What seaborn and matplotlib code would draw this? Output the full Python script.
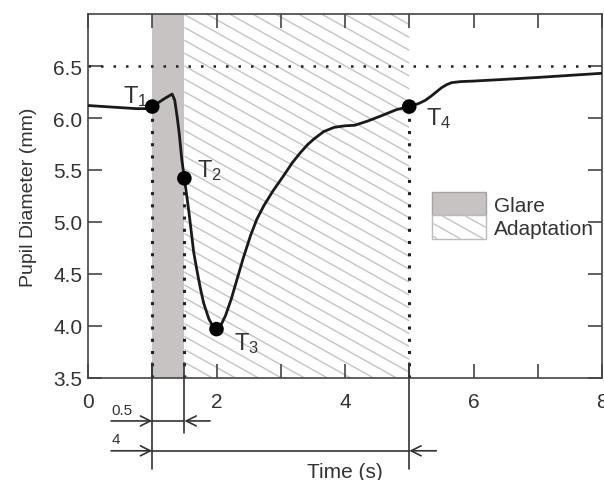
import numpy as np
import matplotlib
matplotlib.use("Agg")
import matplotlib.pyplot as plt
from matplotlib.patches import Rectangle
from matplotlib.collections import LineCollection
import seaborn as sns
import pandas as pd

# Pupil diameter trace (s, mm)
time_s = [0.0, 0.25, 0.5, 0.75, 0.9, 1.0, 1.1, 1.2, 1.31, 1.35, 1.39, 1.42,
          1.46, 1.5, 1.57, 1.645, 1.7, 1.75, 1.8, 1.88, 1.94, 2.0, 2.07,
          2.14, 2.23, 2.32, 2.42, 2.53, 2.63, 2.74, 2.88, 3.05, 3.18, 3.31,
          3.42, 3.52, 3.67, 3.83, 4.0, 4.15, 4.35, 4.56, 4.8, 5.0, 5.15,
          5.25, 5.34, 5.42, 5.5, 5.58, 5.66, 5.8, 6.0, 6.44, 7.0, 7.5, 8.0]
diameter_mm = [6.12, 6.11, 6.10, 6.09, 6.09, 6.11, 6.15, 6.19, 6.23, 6.17,
               6.00, 5.85, 5.60, 5.42, 5.10, 4.71, 4.52, 4.36, 4.22, 4.07,
               4.00, 3.97, 4.01, 4.10, 4.26, 4.45, 4.66, 4.87, 5.03, 5.16,
               5.30, 5.45, 5.57, 5.67, 5.745, 5.80, 5.87, 5.91, 5.925, 5.93,
               5.97, 6.02, 6.08, 6.11, 6.14, 6.17, 6.21, 6.25, 6.29, 6.32,
               6.34, 6.35, 6.355, 6.37, 6.39, 6.41, 6.43]

# Key instants T1..T4
key_labels = ["1", "2", "3", "4"]
key_time = [1.0, 1.5, 2.0, 5.0]
key_diam = [6.11, 5.42, 3.97, 6.11]

# Phases
glare_span = (1.0, 1.5)
adapt_span = (1.5, 5.0)
ref_level = 6.5

x_ticks = [0, 1, 2, 3, 4, 5, 6, 7, 8]
x_ticklabels = ["0", "", "2", "", "4", "", "6", "", "8"]
y_ticks = [3.5, 4.0, 4.5, 5.0, 5.5, 6.0, 6.5]

sns.set_theme(style="ticks")
plt.rcParams["font.family"] = ["Liberation Sans", "DejaVu Sans"]
plt.rcParams["mathtext.fontset"] = "custom"
plt.rcParams["mathtext.rm"] = "Liberation Sans"
plt.rcParams["mathtext.it"] = "Liberation Sans"

TXT = "#333333"
LINE = "#222222"
GLARE = "#c8c3c3"
HATCH = "#c4c4c4"

fig = plt.figure(figsize=(6.04, 4.81), dpi=100)
ax = fig.add_axes([88 / 604, 1 - 379 / 481, 514 / 604, 364 / 481])
ax.set_xlim(0, 8)
ax.set_ylim(3.5, 7.0)


def hatch_segments(xmin, xmax, ymin, ymax, slope, step, phase=0.0):
    """Parallel descending lines clipped to a rectangle."""
    h = ymax - ymin
    segs = []
    c = xmin - h / slope - step + phase
    while c < xmax:
        xs = max(c, xmin)
        xe = min(c + h / slope, xmax)
        if xs < xe:
            segs.append([(xs, ymax - slope * (xs - c)), (xe, ymax - slope * (xe - c))])
        c += step
    return segs


# Glare band
ax.axvspan(*glare_span, color=GLARE, lw=0, zorder=0)

# Adaptation hatching, drawn in axes-fraction coordinates
x0 = adapt_span[0] / 8
x1 = adapt_span[1] / 8
aspect = 514 / 364
segs = hatch_segments(x0, x1, 0, 1, 0.56 * aspect, 23 / 514, phase=0.01)
ax.add_collection(LineCollection(segs, colors=HATCH, linewidths=1.0,
                                 transform=ax.transAxes, zorder=0))

# Reference level and drop lines
ax.axhline(ref_level, color=LINE, lw=1.8, dashes=(1, 4), zorder=1)
for xt, yt in zip(key_time, key_diam):
    if xt == 2.0:
        continue
    ax.plot([xt, xt], [3.5, yt], color=LINE, lw=2.2, dashes=(1, 3), zorder=1)

# Trace
df = pd.DataFrame({"t": time_s, "d": diameter_mm})
sns.lineplot(data=df, x="t", y="d", ax=ax, color="#1a1a1a", lw=2.0,
             sort=False, estimator=None, zorder=3)
kp = pd.DataFrame({"t": key_time, "d": key_diam})
sns.scatterplot(data=kp, x="t", y="d", ax=ax, color="black", s=110,
                edgecolor="none", zorder=4)

label_off = [(-29, 23), (13, 21), (18, -1), (17, 1)]
for lab, xt, yt, (dx, dy) in zip(key_labels, key_time, key_diam, label_off):
    ax.annotate(r"T$_{\mathregular{%s}}$" % lab, (xt, yt), xytext=(dx, dy),
                textcoords="offset pixels", fontsize=17, color=TXT,
                ha="left", va="top")

# Axes styling
ax.set_xticks(x_ticks)
ax.set_xticklabels(x_ticklabels)
ax.set_yticks(y_ticks)
ax.set_yticklabels([f"{v:.1f}" for v in y_ticks])
ax.tick_params(direction="in", length=10, width=1.2, color="#444444",
               top=True, right=True, labelsize=15, labelcolor=TXT)
ax.tick_params(axis="x", pad=10)
ax.tick_params(axis="y", pad=4)
for sp in ax.spines.values():
    sp.set_color("#444444")
    sp.set_linewidth(1.2)
ax.set_xlabel("")
ax.set_ylabel("Pupil Diameter (mm)", fontsize=14, color=TXT, labelpad=12)

# Duration markers below the axis
xt = ax.get_xaxis_transform()
DIM = "#333333"
for xv, ybot in [(1.0, -0.25), (1.5, -0.15), (5.0, -0.25)]:
    ax.plot([xv, xv], [0.04, ybot], transform=xt, color=DIM, lw=1.2,
            clip_on=False, zorder=5)

arrow = dict(arrowstyle="->", lw=1.2, color=DIM, shrinkA=0, shrinkB=0,
             mutation_scale=18)
y_half = -0.118
y_full = -0.2
ax.annotate("", xy=(1.0, y_half), xytext=(0.36, y_half), xycoords=xt,
            arrowprops=arrow, annotation_clip=False)
ax.annotate("", xy=(1.5, y_half), xytext=(1.9, y_half), xycoords=xt,
            arrowprops=arrow, annotation_clip=False)
ax.plot([1.0, 1.5], [y_half, y_half], transform=xt, color=DIM, lw=1.2,
        clip_on=False)
ax.annotate("", xy=(1.0, y_full), xytext=(0.36, y_full), xycoords=xt,
            arrowprops=arrow, annotation_clip=False)
ax.annotate("", xy=(5.0, y_full), xytext=(5.42, y_full), xycoords=xt,
            arrowprops=arrow, annotation_clip=False)
ax.plot([1.0, 5.0], [y_full, y_full], transform=xt, color=DIM, lw=1.2,
        clip_on=False)
ax.text(0.36, y_half + 0.012, "0.5", transform=xt, fontsize=11, color=TXT,
        ha="left", va="bottom")
ax.text(0.36, y_full + 0.012, "4", transform=xt, fontsize=11, color=TXT,
        ha="left", va="bottom")
ax.text(4.0, -0.232, "Time (s)", transform=xt, fontsize=15, color=TXT,
        ha="center", va="top")


# Legend with a custom hatched handle
class HatchHandle:
    def legend_artist(self, legend, orig_handle, fontsize, handlebox):
        x, y = -handlebox.xdescent, -handlebox.ydescent
        w, h = handlebox.width, handlebox.height
        segs = hatch_segments(x, x + w, y, y + h, 0.56, 16.5, phase=4)
        lc = LineCollection(segs, colors=HATCH, linewidths=1.0,
                            transform=handlebox.get_transform())
        box = Rectangle((x, y), w, h, facecolor="white", edgecolor="#bbbbbb",
                        lw=1.0, transform=handlebox.get_transform())
        handlebox.add_artist(box)
        handlebox.add_artist(lc)
        return box


class GlareHandle:
    def legend_artist(self, legend, orig_handle, fontsize, handlebox):
        x, y = -handlebox.xdescent, -handlebox.ydescent
        box = Rectangle((x, y), handlebox.width, handlebox.height,
                        facecolor=GLARE, edgecolor="#a8a3a3", lw=1.0,
                        transform=handlebox.get_transform())
        handlebox.add_artist(box)
        return box


class _Glare:
    pass


class _Adapt:
    pass


h_glare, h_adapt = _Glare(), _Adapt()
ax.legend([h_glare, h_adapt], ["Glare", "Adaptation"],
          handler_map={_Glare: GlareHandle(), _Adapt: HatchHandle()},
          loc="upper left", bbox_to_anchor=(0.669, 0.511), frameon=False,
          borderpad=0, borderaxespad=0, labelspacing=0, handlelength=2.6,
          handleheight=1.35, handletextpad=0.4, fontsize=15,
          labelcolor=TXT)

fig.savefig("out.png", dpi=100)
